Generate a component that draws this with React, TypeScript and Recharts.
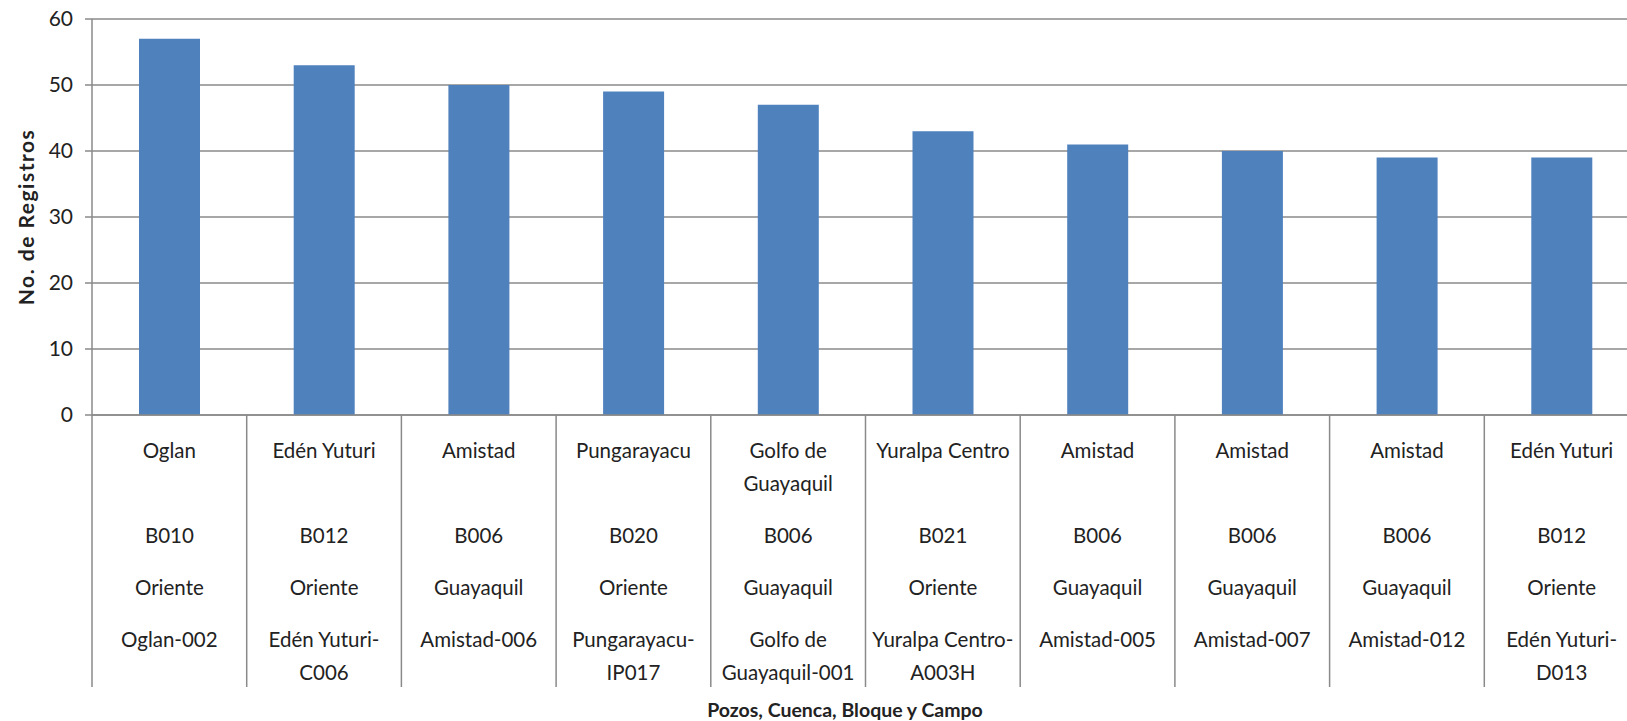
import { BarChart, Bar, XAxis, YAxis, CartesianGrid, Label } from "recharts";

// categorías (de arriba hacia abajo en el eje X)
const campos = [
  ["Oglan"],
  ["Edén Yuturi"],
  ["Amistad"],
  ["Pungarayacu"],
  ["Golfo de", "Guayaquil"],
  ["Yuralpa Centro"],
  ["Amistad"],
  ["Amistad"],
  ["Amistad"],
  ["Edén Yuturi"],
];
const bloques = ["B010", "B012", "B006", "B020", "B006", "B021", "B006", "B006", "B006", "B012"];
const cuencas = [
  "Oriente", "Oriente", "Guayaquil", "Oriente", "Guayaquil",
  "Oriente", "Guayaquil", "Guayaquil", "Guayaquil", "Oriente",
];
const pozos = [
  ["Oglan-002"],
  ["Edén Yuturi-", "C006"],
  ["Amistad-006"],
  ["Pungarayacu-", "IP017"],
  ["Golfo de", "Guayaquil-001"],
  ["Yuralpa Centro-", "A003H"],
  ["Amistad-005"],
  ["Amistad-007"],
  ["Amistad-012"],
  ["Edén Yuturi-", "D013"],
];
const registros = [57, 53, 50, 49, 47, 43, 41, 40, 39, 39];
const yTicks = [0, 10, 20, 30, 40, 50, 60];

const data = registros.map((v, i) => ({ id: pozos[i].join(""), registros: v }));

const FONT = "Lato, 'Open Sans', sans-serif";
const TEXT = "#222";
const GRID = "#8a8a8a";

const CHART_W = 1660;
const CHART_H = 721;
const M = { top: 19, right: 21, left: 32, bottom: 16 };
const Y_AXIS_W = 60;
const X_AXIS_H = 290;
const PLOT_W = CHART_W - M.left - M.right - Y_AXIS_W;
const HALF_BAND = PLOT_W / data.length / 2;

function MultiTick(props: any) {
  const { x, y, index } = props;
  const lines = (arr: string[], y0: number) =>
    arr.map((s, k) => (
      <text key={s + k} x={x} y={y0 + k * 33} dy="0.35em" textAnchor="middle"
        fontFamily={FONT} fontSize={20.5} fill={TEXT}>
        {s}
      </text>
    ));
  return (
    <g>
      <line x1={x - HALF_BAND} x2={x - HALF_BAND} y1={y} y2={y + 272} stroke={GRID} strokeWidth={1.5} />
      {lines(campos[index], y + 36)}
      {lines([bloques[index]], y + 121)}
      {lines([cuencas[index]], y + 173)}
      {lines(pozos[index], y + 225)}
    </g>
  );
}

export default function App() {
  return (
    <div style={{ position: "fixed", left: 0, top: 0, width: 1627, height: 721, overflow: "hidden", background: "#fff" }}>
      <BarChart width={CHART_W} height={CHART_H} data={data} margin={M}>
        <CartesianGrid vertical={false} stroke={GRID} strokeWidth={1.5} />
        <XAxis
          dataKey="id"
          height={X_AXIS_H}
          interval={0}
          tickLine={false}
          tickSize={0}
          tickMargin={0}
          axisLine={{ stroke: GRID, strokeWidth: 1.5 }}
          tick={<MultiTick />}
        >
          <Label
            content={() => (
              <text x={845} y={710} dy="0.35em" textAnchor="middle" fontFamily={FONT}
                fontSize={19.5} fontWeight="bold" fill={TEXT}>
                Pozos, Cuenca, Bloque y Campo
              </text>
            )}
          />
        </XAxis>
        <YAxis
          width={Y_AXIS_W}
          domain={[0, 60]}
          ticks={yTicks}
          interval={0}
          tickSize={7}
          tickMargin={12}
          tickLine={{ stroke: GRID, strokeWidth: 1.5 }}
          axisLine={{ stroke: GRID, strokeWidth: 1.5 }}
          tick={{ fontFamily: FONT, fontSize: 21, fill: TEXT }}
        >
          <Label
            content={() => (
              <text x={27} y={217} dy="0.35em" textAnchor="middle" transform="rotate(-90 27 217)"
                fontFamily={FONT} fontSize={21} letterSpacing={1.5} fontWeight="bold" fill={TEXT}>
                No. de Registros
              </text>
            )}
          />
        </YAxis>
        <Bar dataKey="registros" fill="#4F81BD" barSize={61} isAnimationActive={false} />
      </BarChart>
    </div>
  );
}
